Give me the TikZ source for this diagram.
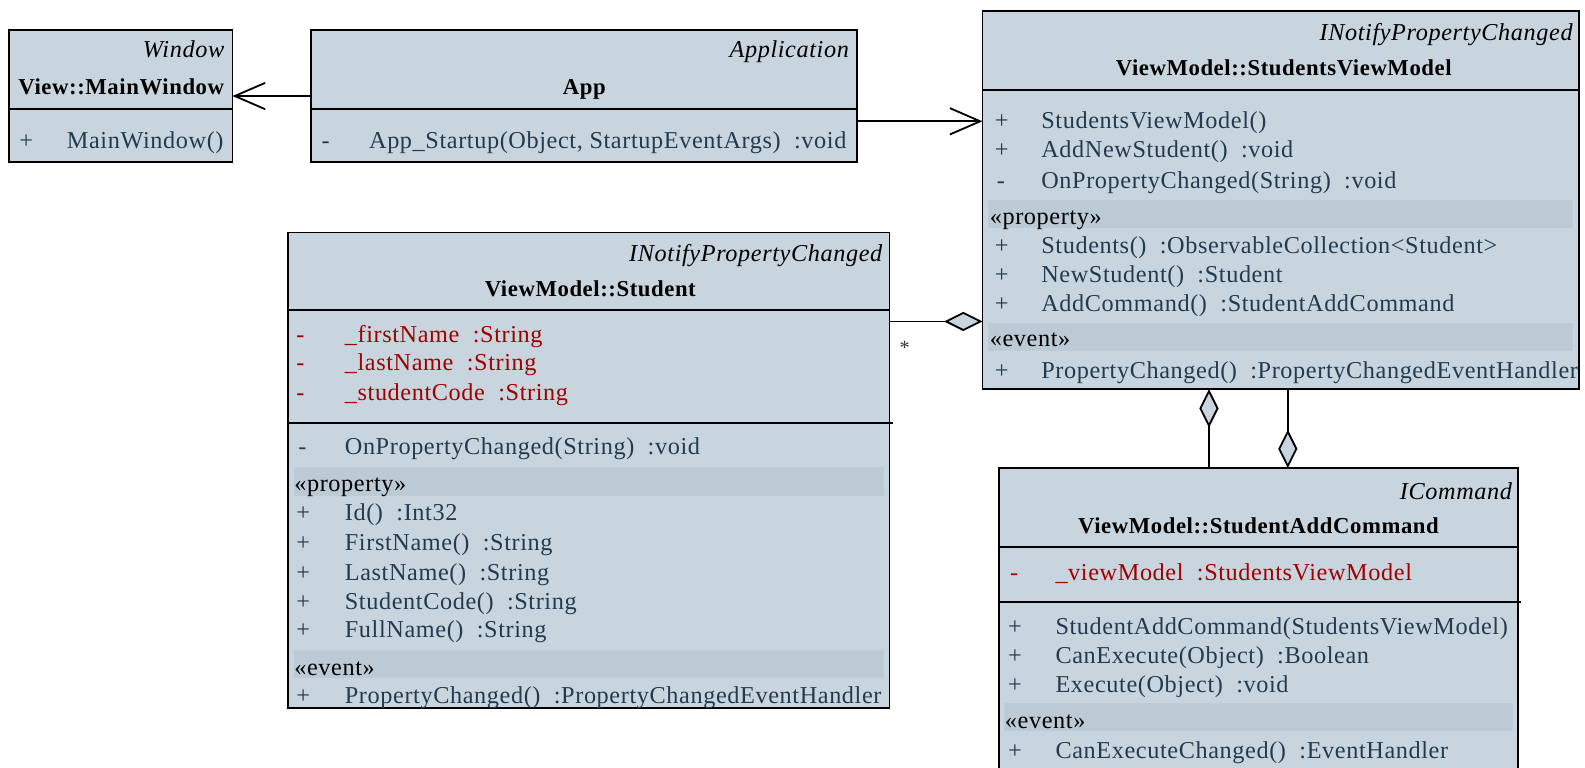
\documentclass[tikz,border=0pt]{standalone}
\usepackage{fontspec}
\setmainfont[LetterSpace=2.5]{Liberation Serif}
\usetikzlibrary{arrows.meta,calc}
\definecolor{boxfill}{HTML}{C8D5DE}
\definecolor{bandfill}{HTML}{BCCAD5}
\definecolor{mtext}{HTML}{243B4F}
\definecolor{atext}{HTML}{A00000}
\tikzset{
  cls/.style={draw=black, line width=1.8pt, fill=boxfill, anchor=north west, inner sep=0pt, outer sep=0pt},
  divider/.style={draw=black, line width=2pt},
  band/.style={fill=bandfill, draw=bandfill!80!boxfill, line width=0.8pt},
  mem/.style={inner sep=0pt, font=\fontsize{24}{26}\selectfont, text=mtext, anchor=base west},
  attr/.style={mem, text=atext},
  stereo/.style={inner sep=0pt, font=\fontsize{24}{26}\selectfont, text=black, anchor=base west},
  iface/.style={inner sep=0pt, font=\fontsize{24}{26}\selectfont\itshape, text=black, anchor=base east},
  title/.style={inner sep=0pt, font=\fontsize{22.5}{24}\selectfont\bfseries, text=black, anchor=base},
  conn/.style={draw=black, line width=1.8pt},
  barb/.style={-{Straight Barb[length=30pt,width=26pt,line width=1.8pt]}},
  dia/.tip={Diamond[length=38pt,width=19pt,fill=boxfill,line width=1.8pt]},
  mult/.style={inner sep=0pt, font=\fontsize{20}{22}\selectfont, text=black!80}
}
\begin{document}
\begin{tikzpicture}[x=1pt,y=-1pt]
\useasboundingbox (0,0) rectangle (1568,759);
\clip (0,0) rectangle (1568,759);

% ---------- View::MainWindow ----------
\node[cls, minimum width=221pt, minimum height=130pt] (mw) at (9,30) {};
\draw[divider] (mw.west |- 0,108) -- (mw.east |- 0,108);
\node[iface] (mw-i) at (222,57) {Window};
\node[title] (mw-t) at (120,93) {View::MainWindow};
\node[mem] (mw-v1) at (19,147) {+};
\node[mem] (mw-m1) at (66,147) {MainWindow()};

% ---------- App ----------
\node[cls, minimum width=540pt, minimum height=130pt] (app) at (308,30) {};
\draw[divider] (app.west |- 0,108) -- (app.east |- 0,108);
\node[iface] (app-i) at (840,57) {Application};
\node[title] (app-t) at (578,93) {App};
\node[mem] (app-v1) at (318,147) {-};
\node[mem] (app-m1) at (365,147) {App\_Startup(Object, StartupEventArgs) \ :void};

% ---------- ViewModel::StudentsViewModel ----------
\node[cls, minimum width=590pt, minimum height=374pt] (svm) at (972,11) {};
\draw[divider] (svm.west |- 0,89) -- (svm.east |- 0,89);
\node[iface] (svm-i) at (1556,40) {INotifyPropertyChanged};
\node[title] (svm-t) at (1270,75) {ViewModel::StudentsViewModel};
\node[mem] (svm-v1) at (984,127) {+};
\node[mem] (svm-m1) at (1030,127) {StudentsViewModel()};
\node[mem] (svm-v2) at (984,156) {+};
\node[mem] (svm-m2) at (1030,156) {AddNewStudent() \ :void};
\node[mem] (svm-v3) at (986,186) {-};
\node[mem] (svm-m3) at (1030,186) {OnPropertyChanged(String) \ :void};
\path[band] (978,198) rectangle (1556,225);
\node[stereo] (svm-s1) at (979,222) {«property»};
\node[mem] (svm-v4) at (984,251) {+};
\node[mem] (svm-m4) at (1030,251) {Students() \ :ObservableCollection<Student>};
\node[mem] (svm-v5) at (984,279) {+};
\node[mem] (svm-m5) at (1030,279) {NewStudent() \ :Student};
\node[mem] (svm-v6) at (984,308) {+};
\node[mem] (svm-m6) at (1030,308) {AddCommand() \ :StudentAddCommand};
\path[band] (978,320) rectangle (1556,347);
\node[stereo] (svm-s2) at (979,343) {«event»};
\node[mem] (svm-v7) at (984,374) {+};
\node[mem] (svm-m7) at (1030,374) {PropertyChanged() \ :PropertyChangedEventHandler};

% ---------- ViewModel::Student ----------
\node[cls, minimum width=595pt, minimum height=470pt] (stu) at (285,230) {};
\draw[divider] (stu.west |- 0,307) -- (stu.east |- 0,307);
\draw[divider] (stu.west |- 0,418.5) -- ([xshift=3pt]stu.east |- 0,418.5);
\node[iface] (stu-i) at (873,259) {INotifyPropertyChanged};
\node[title] (stu-t) at (584,293) {ViewModel::Student};
\node[attr] (stu-av1) at (293,339) {-};
\node[attr] (stu-a1) at (341,339) {\_firstName \ :String};
\node[attr] (stu-av2) at (293,367) {-};
\node[attr] (stu-a2) at (341,367) {\_lastName \ :String};
\node[attr] (stu-av3) at (293,396) {-};
\node[attr] (stu-a3) at (341,396) {\_studentCode \ :String};
\node[mem] (stu-v1) at (295,450) {-};
\node[mem] (stu-m1) at (341,450) {OnPropertyChanged(String) \ :void};
\path[band] (291,462) rectangle (874,490);
\node[stereo] (stu-s1) at (291,486) {«property»};
\node[mem] (stu-v2) at (293,515) {+};
\node[mem] (stu-m2) at (341,515) {Id() \ :Int32};
\node[mem] (stu-v3) at (293,545) {+};
\node[mem] (stu-m3) at (341,545) {FirstName() \ :String};
\node[mem] (stu-v4) at (293,574) {+};
\node[mem] (stu-m4) at (341,574) {LastName() \ :String};
\node[mem] (stu-v5) at (293,603) {+};
\node[mem] (stu-m5) at (341,603) {StudentCode() \ :String};
\node[mem] (stu-v6) at (293,631) {+};
\node[mem] (stu-m6) at (341,631) {FullName() \ :String};
\path[band] (291,643) rectangle (874,670);
\node[stereo] (stu-s2) at (291,668) {«event»};
\node[mem] (stu-v7) at (293,696) {+};
\node[mem] (stu-m7) at (341,696) {PropertyChanged() \ :PropertyChangedEventHandler};

% ---------- ViewModel::StudentAddCommand ----------
\node[cls, minimum width=514pt, minimum height=330pt] (sac) at (988,463) {};
\draw[divider] (sac.west |- 0,541) -- (sac.east |- 0,541);
\draw[divider] (sac.west |- 0,595.5) -- ([xshift=3pt]sac.east |- 0,595.5);
\node[iface] (sac-i) at (1496,494) {ICommand};
\node[title] (sac-t) at (1245,528) {ViewModel::StudentAddCommand};
\node[attr] (sac-av1) at (999,574) {-};
\node[attr] (sac-a1) at (1044,574) {\_viewModel \ :StudentsViewModel};
\node[mem] (sac-v1) at (997,628) {+};
\node[mem] (sac-m1) at (1044,628) {StudentAddCommand(StudentsViewModel)};
\node[mem] (sac-v2) at (997,656) {+};
\node[mem] (sac-m2) at (1044,656) {CanExecute(Object) \ :Boolean};
\node[mem] (sac-v3) at (997,685) {+};
\node[mem] (sac-m3) at (1044,685) {Execute(Object) \ :void};
\path[band] (994,696) rectangle (1496,723);
\node[stereo] (sac-s1) at (994,721) {«event»};
\node[mem] (sac-v4) at (997,750) {+};
\node[mem] (sac-m4) at (1044,750) {CanExecuteChanged() \ :EventHandler};

% ---------- connectors ----------
\draw[conn, barb] (app.west) -- (mw.east);
\draw[conn, barb] ([yshift=-25pt]app.east) -- ([yshift=-25pt]app.east -| svm.west);
\draw[conn, -dia] ([yshift=147pt]stu.east) coordinate (aggS) -- ([yshift=147pt]stu.east -| svm.west);
\node[mult] (star) at ($(aggS)+(15,26)$) {*};
\draw[conn, dia-] ([xshift=-71pt]svm.south) -- ([xshift=-71pt]svm.south |- sac.north);
\draw[conn, -dia] ([xshift=7pt]svm.south) -- ([xshift=7pt]svm.south |- sac.north);
\end{tikzpicture}
\end{document}
